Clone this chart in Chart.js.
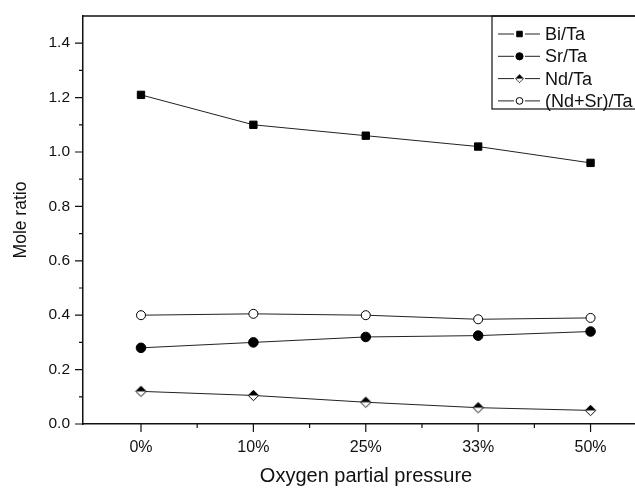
<!DOCTYPE html>
<html lang="en">
<head>
<meta charset="utf-8">
<title>Mole ratio vs oxygen partial pressure</title>
<script src="https://cdn.jsdelivr.net/npm/chart.js@4.4.0/dist/chart.umd.min.js"></script>
<style>
  html, body { margin: 0; padding: 0; background: #fff; overflow: hidden; }
  .chart-box { position: relative; width: 660px; height: 488px; }
</style>
</head>
<body>
<div class="chart-box"><canvas id="ratio"></canvas></div>
<script>
// values
const pressures = ['0%', '10%', '25%', '33%', '50%'];
const biTa   = [1.21, 1.10, 1.06, 1.02, 0.96];
const srTa   = [0.28, 0.30, 0.32, 0.325, 0.34];
const ndTa   = [0.12, 0.105, 0.08, 0.06, 0.05];
const ndSrTa = [0.40, 0.405, 0.40, 0.385, 0.39];
const yTicks = [0.0, 0.2, 0.4, 0.6, 0.8, 1.0, 1.2, 1.4];
const yMinor = [0.1, 0.3, 0.5, 0.7, 0.9, 1.1, 1.3];

const FONT = '"Liberation Sans", Arial, sans-serif';
const INK = '#111';

// half filled diamond marker (top black, bottom white)
const halfDiamond = (() => {
  const c = document.createElement('canvas');
  c.width = 13; c.height = 13;
  const g = c.getContext('2d');
  const m = 6.5, r = 5.2;
  g.beginPath();
  g.moveTo(m, m - r); g.lineTo(m + r, m); g.lineTo(m, m + r); g.lineTo(m - r, m); g.closePath();
  g.fillStyle = '#fff'; g.fill();
  g.beginPath();
  g.moveTo(m, m - r); g.lineTo(m + r, m); g.lineTo(m - r, m); g.closePath();
  g.fillStyle = '#000'; g.fill();
  g.beginPath();
  g.moveTo(m, m - r); g.lineTo(m + r, m); g.lineTo(m, m + r); g.lineTo(m - r, m); g.closePath();
  g.strokeStyle = '#000'; g.lineWidth = 1; g.stroke();
  return c;
})();

const toPoints = arr => arr.map((v, i) => ({ x: i, y: v }));

function series(label, values, style, radius, fill) {
  return {
    label: label,
    data: toPoints(values),
    borderColor: '#222',
    borderWidth: 1,
    pointStyle: style,
    pointRadius: radius,
    pointHoverRadius: radius,
    pointBackgroundColor: fill,
    pointBorderColor: '#000',
    pointBorderWidth: 1,
    tension: 0
  };
}

// frame, outward ticks (major + minor)
const axesPlugin = {
  id: 'axesFrame',
  afterDraw(chart) {
    const ctx = chart.ctx;
    const a = chart.chartArea;
    const xs = chart.scales.x, ys = chart.scales.y;
    ctx.save();
    ctx.strokeStyle = INK;
    ctx.lineWidth = 1.5;
    ctx.beginPath();
    ctx.moveTo(a.left, a.top); ctx.lineTo(a.right, a.top); ctx.lineTo(a.right, a.bottom);
    ctx.stroke();
    ctx.lineWidth = 1.2;
    ctx.beginPath();
    yTicks.forEach(v => { const p = ys.getPixelForValue(v); ctx.moveTo(a.left, p); ctx.lineTo(a.left - 8, p); });
    yMinor.forEach(v => { const p = ys.getPixelForValue(v); ctx.moveTo(a.left, p); ctx.lineTo(a.left - 4, p); });
    pressures.forEach((_, i) => {
      const p = xs.getPixelForValue(i);
      ctx.moveTo(p, a.bottom); ctx.lineTo(p, a.bottom + 8);
      if (i < pressures.length - 1) {
        const q = xs.getPixelForValue(i + 0.5);
        ctx.moveTo(q, a.bottom); ctx.lineTo(q, a.bottom + 4);
      }
    });
    ctx.stroke();
    ctx.restore();
  }
};

// boxed legend with line + marker samples
const legendPlugin = {
  id: 'boxLegend',
  afterDraw(chart) {
    const ctx = chart.ctx;
    const a = chart.chartArea;
    const left = 492, top = a.top, bottom = 109, rowH = 22.3, firstY = 34;
    ctx.save();
    ctx.strokeStyle = INK;
    ctx.lineWidth = 1.2;
    ctx.strokeRect(left, top, a.right - left, bottom - top);
    ctx.font = '18px ' + FONT;
    ctx.textBaseline = 'middle';
    ctx.fillStyle = INK;
    chart.data.datasets.forEach((ds, i) => {
      const y = firstY + i * rowH;
      ctx.lineWidth = 1;
      ctx.strokeStyle = '#222';
      ctx.beginPath();
      ctx.moveTo(498, y); ctx.lineTo(514, y);
      ctx.moveTo(525, y); ctx.lineTo(540, y);
      ctx.stroke();
      ctx.fillStyle = ds.pointBackgroundColor;
      ctx.strokeStyle = '#000';
      if (ds.pointStyle instanceof HTMLCanvasElement) {
        ctx.drawImage(ds.pointStyle, 519.5 - 5, y - 5, 10, 10);
      } else {
        Chart.helpers.drawPoint(ctx, { pointStyle: ds.pointStyle, radius: ds.pointRadius * 0.75, borderWidth: 1, rotation: 0 }, 519.5, y);
      }
      ctx.fillStyle = INK;
      ctx.fillText(ds.label, 545, y + 1);
    });
    ctx.restore();
  }
};

new Chart(document.getElementById('ratio'), {
  type: 'line',
  data: {
    datasets: [
      series('Bi/Ta', biTa, 'rect', 5.2, '#000'),
      series('Sr/Ta', srTa, 'circle', 4.8, '#000'),
      series('Nd/Ta', ndTa, halfDiamond, 5, '#000'),
      series('(Nd+Sr)/Ta', ndSrTa, 'circle', 4.5, '#fff')
    ]
  },
  options: {
    responsive: true,
    maintainAspectRatio: false,
    animation: false,
    events: [],
    layout: { padding: { top: 16, right: 11, left: 0, bottom: 0 } },
    plugins: {
      legend: { display: false },
      tooltip: { enabled: false }
    },
    scales: {
      x: {
        type: 'linear',
        min: -0.516,
        max: 4.52,
        afterFit: s => { s.height = 64; s.paddingLeft = 0; s.paddingRight = 0; },
        afterBuildTicks: s => { s.ticks = pressures.map((_, i) => ({ value: i })); },
        grid: { display: true, drawOnChartArea: false, drawTicks: false },
        border: { display: true, color: INK, width: 1.5 },
        ticks: {
          padding: 14,
          color: INK,
          font: { family: FONT, size: 16 },
          maxRotation: 0,
          callback: v => pressures[v]
        },
        title: {
          display: true,
          text: 'Oxygen partial pressure',
          color: INK,
          font: { family: FONT, size: 20 },
          padding: { top: 0, bottom: 0 }
        }
      },
      y: {
        min: 0,
        max: 1.5,
        afterFit: s => { s.width = 83; s.paddingTop = 0; s.paddingBottom = 0; },
        afterBuildTicks: s => { s.ticks = yTicks.map(v => ({ value: v })); },
        grid: { display: true, drawOnChartArea: false, drawTicks: false },
        border: { display: true, color: INK, width: 1.5 },
        ticks: {
          padding: 13,
          color: INK,
          font: { family: FONT, size: 15.5 },
          callback: v => v.toFixed(1)
        },
        title: {
          display: true,
          text: 'Mole ratio',
          color: INK,
          font: { family: FONT, size: 17.5 },
          padding: { top: 11, bottom: 0 }
        }
      }
    }
  },
  plugins: [axesPlugin, legendPlugin]
});
</script>
</body>
</html>
